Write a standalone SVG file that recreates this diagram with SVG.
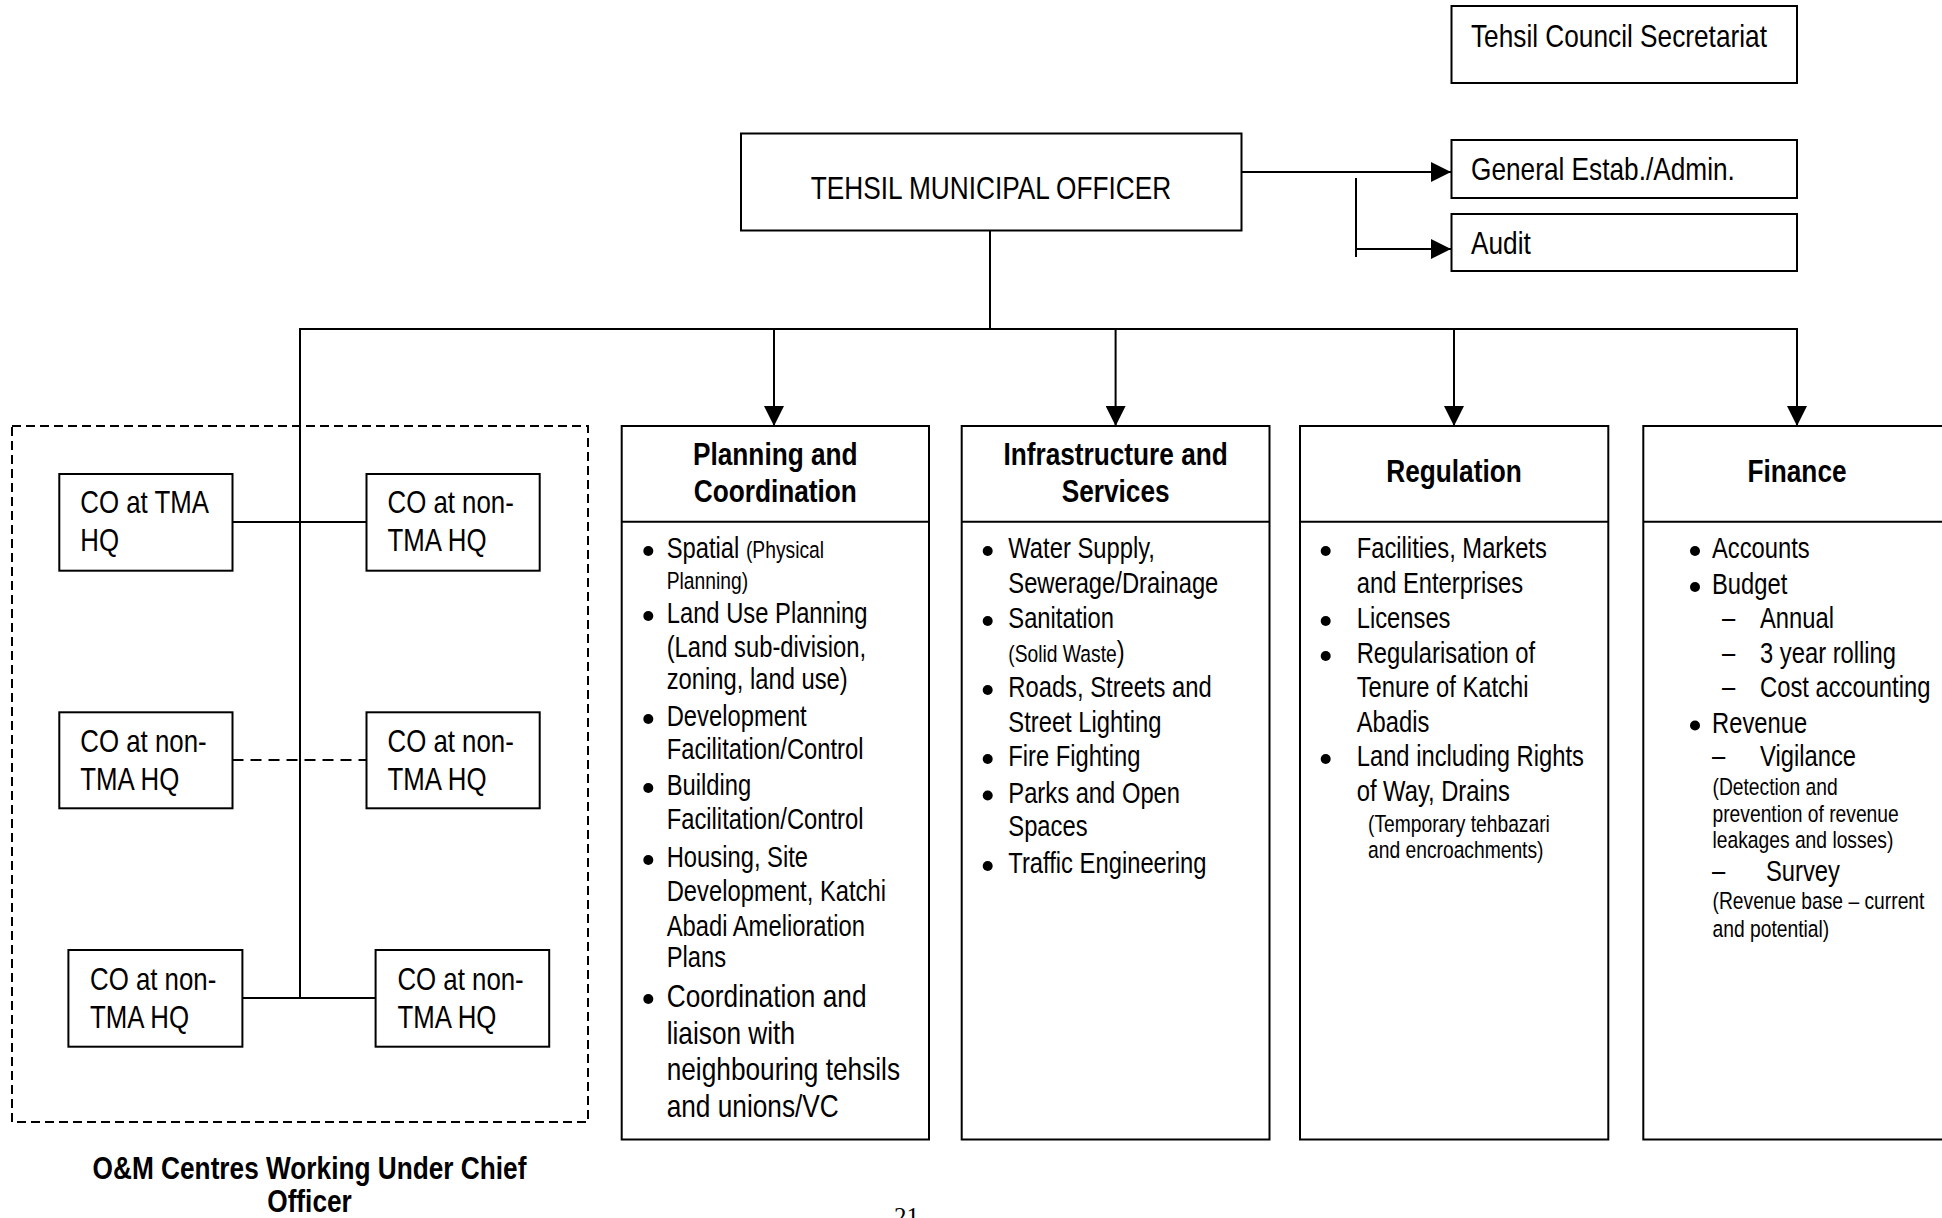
<svg xmlns="http://www.w3.org/2000/svg" width="1942" height="1218" viewBox="0 0 1942 1218">
<defs>
<style>
text{font-family:"Liberation Sans","Arial",sans-serif;fill:#000}
.t32{font-size:32px}
.b32{font-size:32px;font-weight:bold}
.co{font-size:31.5px}
.body{font-size:29px}
.big{font-size:32px}
.sm{font-size:23.5px}
.box{fill:#fff;stroke:#000;stroke-width:2}
.ln{fill:none;stroke:#000;stroke-width:2}
.dash{fill:none;stroke:#000;stroke-width:2;stroke-dasharray:9 5}
.dash2{fill:none;stroke:#000;stroke-width:2;stroke-dasharray:11 7}
.bul{fill:#000}
</style>
<marker id="ah" markerUnits="userSpaceOnUse" markerWidth="20" markerHeight="20" viewBox="0 0 20 20" refX="20" refY="10" orient="auto">
<path d="M0,0 L20,10 L0,20 Z" fill="#000"/>
</marker>
</defs>
<rect width="1942" height="1218" fill="#fff"/>

<g id="connectors">
<line class="ln" x1="1241" y1="172" x2="1451" y2="172" marker-end="url(#ah)"/>
<line class="ln" x1="1356" y1="178" x2="1356" y2="257"/>
<line class="ln" x1="1356" y1="249" x2="1451" y2="249" marker-end="url(#ah)"/>
<line class="ln" x1="990" y1="231" x2="990" y2="329"/>
<polyline class="ln" points="300,998 300,329 1797,329"/>
<line class="ln" x1="774" y1="329" x2="774" y2="426" marker-end="url(#ah)"/>
<line class="ln" x1="1115.6" y1="329" x2="1115.6" y2="426" marker-end="url(#ah)"/>
<line class="ln" x1="1454" y1="329" x2="1454" y2="426" marker-end="url(#ah)"/>
<line class="ln" x1="1797" y1="328" x2="1797" y2="426" marker-end="url(#ah)"/>
<line class="ln" x1="232.5" y1="522" x2="366.5" y2="522"/>
<line class="dash2" x1="232.5" y1="760" x2="366.5" y2="760"/>
<line class="ln" x1="242.4" y1="998" x2="375.6" y2="998"/>
</g>

<g id="tehsil-council">
<rect class="box" x="1451.5" y="6" width="345.5" height="77"/>
<text class="t32" transform="translate(1471,47) scale(0.82,1)">Tehsil Council Secretariat</text>
</g>

<g id="tmo">
<rect class="box" x="741" y="133.5" width="500.5" height="97"/>
<text class="t32" text-anchor="middle" transform="translate(991,199) scale(0.82,1)">TEHSIL MUNICIPAL OFFICER</text>
</g>

<g id="general">
<rect class="box" x="1451.5" y="140" width="345.5" height="58"/>
<text class="t32" transform="translate(1471,180) scale(0.82,1)">General Estab./Admin.</text>
</g>

<g id="audit">
<rect class="box" x="1451.5" y="214" width="345.5" height="57"/>
<text class="t32" transform="translate(1471,254) scale(0.82,1)">Audit</text>
</g>

<g id="om-centres">
<rect class="dash" x="12" y="426" width="576" height="696"/>
<text class="b32" text-anchor="middle" transform="translate(309.5,1179) scale(0.82,1)">O&amp;M Centres Working Under Chief</text>
<text class="b32" text-anchor="middle" transform="translate(309.5,1212) scale(0.82,1)">Officer</text>
</g>

<g id="co1">
<rect class="box" x="59.3" y="474" width="173.2" height="96.7"/>
<text class="co" transform="translate(80.3,513) scale(0.82,1)">CO at TMA</text>
<text class="co" transform="translate(80.3,551) scale(0.82,1)">HQ</text>
</g>
<g id="co2">
<rect class="box" x="366.5" y="474" width="173.2" height="96.7"/>
<text class="co" transform="translate(387.5,513) scale(0.82,1)">CO at non-</text>
<text class="co" transform="translate(387.5,551) scale(0.82,1)">TMA HQ</text>
</g>
<g id="co3">
<rect class="box" x="59.3" y="712.3" width="173.2" height="96"/>
<text class="co" transform="translate(80.3,752) scale(0.82,1)">CO at non-</text>
<text class="co" transform="translate(80.3,789.5) scale(0.82,1)">TMA HQ</text>
</g>
<g id="co4">
<rect class="box" x="366.5" y="712.3" width="173.2" height="96"/>
<text class="co" transform="translate(387.5,752) scale(0.82,1)">CO at non-</text>
<text class="co" transform="translate(387.5,789.5) scale(0.82,1)">TMA HQ</text>
</g>
<g id="co5">
<rect class="box" x="68.4" y="950" width="174" height="96.7"/>
<text class="co" transform="translate(90,990) scale(0.82,1)">CO at non-</text>
<text class="co" transform="translate(90,1027.7) scale(0.82,1)">TMA HQ</text>
</g>
<g id="co6">
<rect class="box" x="375.6" y="950" width="173.6" height="96.7"/>
<text class="co" transform="translate(397.4,990) scale(0.82,1)">CO at non-</text>
<text class="co" transform="translate(397.4,1027.7) scale(0.82,1)">TMA HQ</text>
</g>

<g id="planning">
<rect class="box" x="621.7" y="426" width="307.3" height="713.5"/>
<line class="ln" x1="621.7" y1="521.7" x2="929" y2="521.7"/>
<text class="b32" text-anchor="middle" transform="translate(775.3,465) scale(0.82,1)">Planning and</text>
<text class="b32" text-anchor="middle" transform="translate(775.3,502) scale(0.82,1)">Coordination</text>
<circle class="bul" cx="648.3" cy="551" r="5"/>
<circle class="bul" cx="648.3" cy="616" r="5"/>
<circle class="bul" cx="648.3" cy="719" r="5"/>
<circle class="bul" cx="648.3" cy="788" r="5"/>
<circle class="bul" cx="648.3" cy="860" r="5"/>
<circle class="bul" cx="648.3" cy="999" r="5"/>
<text class="body" transform="translate(666.7,558.3) scale(0.82,1)">Spatial <tspan class="sm">(Physical</tspan></text>
<text class="sm" transform="translate(666.7,589) scale(0.82,1)">Planning)</text>
<text class="body" transform="translate(666.7,623.3) scale(0.82,1)">Land Use Planning</text>
<text class="body" transform="translate(666.7,656.7) scale(0.82,1)">(Land sub-division,</text>
<text class="body" transform="translate(666.7,689.3) scale(0.82,1)">zoning, land use)</text>
<text class="body" transform="translate(666.7,726) scale(0.82,1)">Development</text>
<text class="body" transform="translate(666.7,759.3) scale(0.82,1)">Facilitation/Control</text>
<text class="body" transform="translate(666.7,795) scale(0.82,1)">Building</text>
<text class="body" transform="translate(666.7,829.3) scale(0.82,1)">Facilitation/Control</text>
<text class="body" transform="translate(666.7,867.3) scale(0.82,1)">Housing, Site</text>
<text class="body" transform="translate(666.7,901) scale(0.82,1)">Development, Katchi</text>
<text class="body" transform="translate(666.7,936) scale(0.82,1)">Abadi Amelioration</text>
<text class="body" transform="translate(666.7,967.3) scale(0.82,1)">Plans</text>
<text class="big" transform="translate(666.7,1006.7) scale(0.82,1)">Coordination and</text>
<text class="big" transform="translate(666.7,1044.3) scale(0.82,1)">liaison with</text>
<text class="big" transform="translate(666.7,1080) scale(0.82,1)">neighbouring tehsils</text>
<text class="big" transform="translate(666.7,1116.7) scale(0.82,1)">and unions/VC</text>
</g>

<g id="infrastructure">
<rect class="box" x="961.7" y="426" width="307.8" height="713.5"/>
<line class="ln" x1="961.7" y1="521.7" x2="1269.5" y2="521.7"/>
<text class="b32" text-anchor="middle" transform="translate(1115.6,465) scale(0.82,1)">Infrastructure and</text>
<text class="b32" text-anchor="middle" transform="translate(1115.6,502) scale(0.82,1)">Services</text>
<circle class="bul" cx="987.7" cy="551" r="5"/>
<circle class="bul" cx="987.7" cy="621" r="5"/>
<circle class="bul" cx="987.7" cy="690" r="5"/>
<circle class="bul" cx="987.7" cy="759" r="5"/>
<circle class="bul" cx="987.7" cy="795.5" r="5"/>
<circle class="bul" cx="987.7" cy="866" r="5"/>
<text class="body" transform="translate(1008.3,558.3) scale(0.82,1)">Water Supply,</text>
<text class="body" transform="translate(1008.3,592.7) scale(0.82,1)">Sewerage/Drainage</text>
<text class="body" transform="translate(1008.3,628.3) scale(0.82,1)">Sanitation</text>
<text class="sm" transform="translate(1008.3,661.7) scale(0.82,1)">(Solid Waste<tspan class="body">)</tspan></text>
<text class="body" transform="translate(1008.3,697.3) scale(0.82,1)">Roads, Streets and</text>
<text class="body" transform="translate(1008.3,731.7) scale(0.82,1)">Street Lighting</text>
<text class="body" transform="translate(1008.3,766) scale(0.82,1)">Fire Fighting</text>
<text class="body" transform="translate(1008.3,802.7) scale(0.82,1)">Parks and Open</text>
<text class="body" transform="translate(1008.3,836) scale(0.82,1)">Spaces</text>
<text class="body" transform="translate(1008.3,873.3) scale(0.82,1)">Traffic Engineering</text>
</g>

<g id="regulation">
<rect class="box" x="1300" y="426" width="308.3" height="713.5"/>
<line class="ln" x1="1300" y1="521.7" x2="1608.3" y2="521.7"/>
<text class="b32" text-anchor="middle" transform="translate(1454,482) scale(0.82,1)">Regulation</text>
<circle class="bul" cx="1325.7" cy="551" r="5"/>
<circle class="bul" cx="1325.7" cy="621" r="5"/>
<circle class="bul" cx="1325.7" cy="656" r="5"/>
<circle class="bul" cx="1325.7" cy="759" r="5"/>
<text class="body" transform="translate(1356.7,558.3) scale(0.82,1)">Facilities, Markets</text>
<text class="body" transform="translate(1356.7,592.7) scale(0.82,1)">and Enterprises</text>
<text class="body" transform="translate(1356.7,628.3) scale(0.82,1)">Licenses</text>
<text class="body" transform="translate(1356.7,663.3) scale(0.82,1)">Regularisation of</text>
<text class="body" transform="translate(1356.7,697.3) scale(0.82,1)">Tenure of Katchi</text>
<text class="body" transform="translate(1356.7,731.7) scale(0.82,1)">Abadis</text>
<text class="body" transform="translate(1356.7,766) scale(0.82,1)">Land including Rights</text>
<text class="body" transform="translate(1356.7,800.7) scale(0.82,1)">of Way, Drains</text>
<text class="sm" transform="translate(1368,832) scale(0.82,1)">(Temporary tehbazari</text>
<text class="sm" transform="translate(1368,857.5) scale(0.82,1)">and encroachments)</text>
</g>

<g id="finance">
<rect class="box" x="1643.3" y="426" width="310" height="713.5"/>
<line class="ln" x1="1643.3" y1="521.7" x2="1953" y2="521.7"/>
<text class="b32" text-anchor="middle" transform="translate(1797,482) scale(0.82,1)">Finance</text>
<circle class="bul" cx="1695" cy="551" r="5"/>
<circle class="bul" cx="1695" cy="587" r="5"/>
<circle class="bul" cx="1695" cy="725.5" r="5"/>
<text class="body" transform="translate(1712,558.3) scale(0.82,1)">Accounts</text>
<text class="body" transform="translate(1712,594) scale(0.82,1)">Budget</text>
<text class="body" transform="translate(1722,628.3) scale(0.82,1)">–</text>
<text class="body" transform="translate(1760,628.3) scale(0.82,1)">Annual</text>
<text class="body" transform="translate(1722,663.3) scale(0.82,1)">–</text>
<text class="body" transform="translate(1760,663.3) scale(0.82,1)">3 year rolling</text>
<text class="body" transform="translate(1722,697.3) scale(0.82,1)">–</text>
<text class="body" transform="translate(1760,697.3) scale(0.82,1)">Cost accounting</text>
<text class="body" transform="translate(1712,732.7) scale(0.82,1)">Revenue</text>
<text class="body" transform="translate(1712,766) scale(0.82,1)">–</text>
<text class="body" transform="translate(1760,766) scale(0.82,1)">Vigilance</text>
<text class="sm" transform="translate(1712.5,795) scale(0.82,1)">(Detection and</text>
<text class="sm" transform="translate(1712.5,822) scale(0.82,1)">prevention of revenue</text>
<text class="sm" transform="translate(1712.5,848) scale(0.82,1)">leakages and losses)</text>
<text class="body" transform="translate(1712,880.5) scale(0.82,1)">–</text>
<text class="body" transform="translate(1766,880.5) scale(0.82,1)">Survey</text>
<text class="sm" transform="translate(1712.5,909) scale(0.82,1)">(Revenue base – current</text>
<text class="sm" transform="translate(1712.5,936.5) scale(0.82,1)">and potential)</text>
</g>

<text x="894" y="1225" style="font-family:'Liberation Serif',serif;font-size:25px">21</text>
</svg>
